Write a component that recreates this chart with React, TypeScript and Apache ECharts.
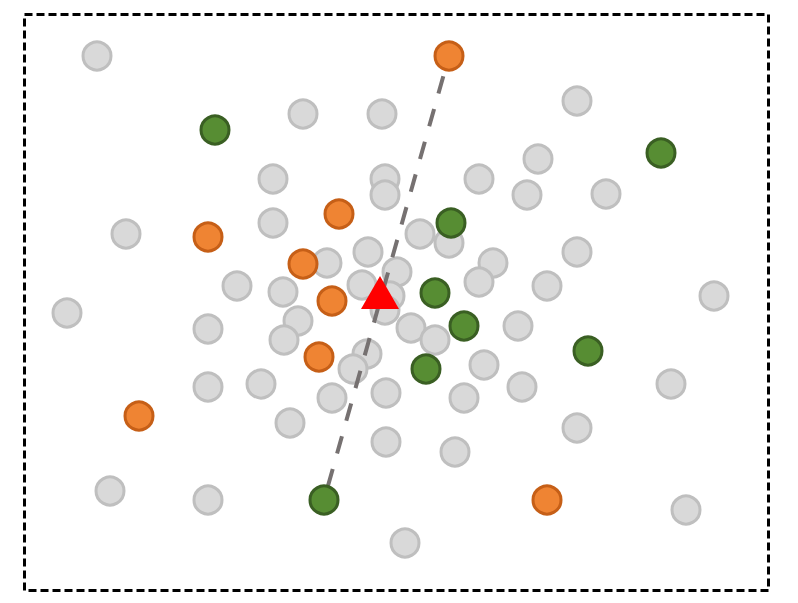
import React, { useEffect, useRef } from "react";
import * as echarts from "echarts";

// Positions are in the chart's own coordinate space (x right, y down)
const greyPoints: [number, number][] = [
  [97, 56], [303, 114], [382, 114], [577, 101], [273, 179], [385, 179], [385, 195],
  [479, 179], [538, 159], [527, 195], [606, 194], [126, 234], [273, 223], [420, 234],
  [449, 243], [368, 252], [327, 263], [493, 263], [479, 282], [577, 252], [547, 286],
  [714, 296], [67, 313], [237, 286], [283, 292], [362, 285], [397, 272], [390, 296],
  [385, 310], [298, 321], [208, 329], [284, 340], [411, 328], [435, 340], [518, 326],
  [367, 354], [353, 369], [484, 365], [208, 387], [261, 384], [332, 398], [386, 393],
  [464, 398], [522, 387], [671, 384], [290, 423], [386, 442], [455, 452], [577, 428],
  [110, 491], [208, 500], [686, 510], [405, 543],
];
const orangePoints: [number, number][] = [
  [449, 56], [339, 214], [208, 237], [303, 264], [332, 301], [319, 357], [139, 416], [547, 500],
];
const greenPoints: [number, number][] = [
  [215, 130], [661, 153], [451, 223], [435, 293], [464, 326], [588, 351], [426, 369], [324, 500],
];
const trianglePoint: [number, number][] = [[380, 292.5]];
const linkPoints: [number, number][] = [orangePoints[0], greenPoints[7]];

export default function App() {
  const ref = useRef<HTMLDivElement>(null);
  useEffect(() => {
    if (!ref.current) return;
    const chart = echarts.init(ref.current, null, { renderer: "svg" });
    chart.setOption({
      animation: false,
      backgroundColor: "#ffffff",
      grid: { left: 0, right: 0, top: 0, bottom: 0 },
      xAxis: { type: "value", min: 0, max: 798, show: false },
      yAxis: { type: "value", min: 0, max: 603, inverse: true, show: false },
      graphic: [
        {
          type: "rect",
          shape: { x: 24.5, y: 14.5, width: 744, height: 576 },
          style: { fill: "none", stroke: "#000000", lineWidth: 3, lineDash: [8, 4] },
          z: 100,
        },
      ],
      series: [
        {
          type: "scatter",
          data: greyPoints,
          symbol: "circle",
          symbolSize: 28,
          itemStyle: { color: "#d9d9d9", borderColor: "#bfbfbf", borderWidth: 3, opacity: 1 },
          z: 2,
          silent: true,
        },
        {
          type: "line",
          data: linkPoints,
          symbol: "none",
          lineStyle: { color: "#767171", width: 4, type: [18, 16], dashOffset: 13.2 },
          z: 3,
          silent: true,
        },
        {
          type: "scatter",
          data: orangePoints,
          symbol: "circle",
          symbolSize: 28,
          itemStyle: { color: "#ef8433", borderColor: "#c65f17", borderWidth: 3, opacity: 1 },
          z: 4,
          silent: true,
        },
        {
          type: "scatter",
          data: greenPoints,
          symbol: "circle",
          symbolSize: 28,
          itemStyle: { color: "#578d33", borderColor: "#3a5f23", borderWidth: 3, opacity: 1 },
          z: 4,
          silent: true,
        },
        {
          type: "scatter",
          data: trianglePoint,
          symbol: "triangle",
          symbolSize: [38, 33],
          itemStyle: { color: "#ff0000", opacity: 1 },
          z: 5,
          silent: true,
        },
      ],
    });
    return () => chart.dispose();
  }, []);
  return (
    <div
      ref={ref}
      style={{ position: "fixed", left: 0, top: 0, width: 798, height: 603 }}
    />
  );
}
